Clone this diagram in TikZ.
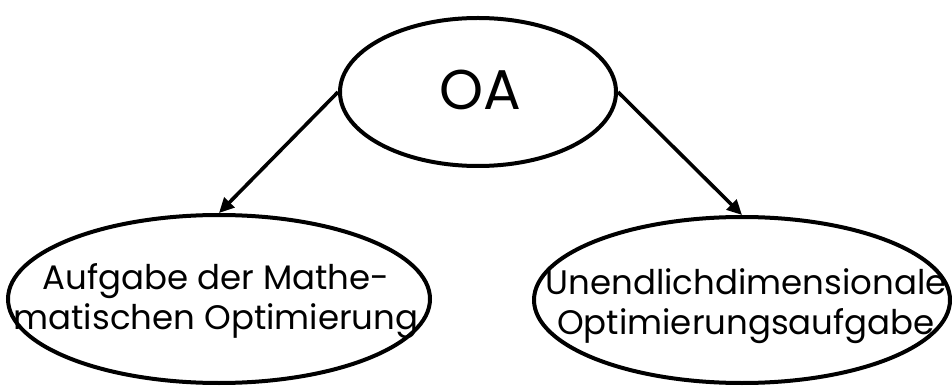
\documentclass[tikz,border=0pt]{standalone}
\usepackage{fontspec}
\setmainfont{Poppins}
\usetikzlibrary{shapes.geometric,arrows.meta}
\begin{document}
\begin{tikzpicture}[x=1pt,y=-1pt,
  bubble/.style={draw,line width=4pt,ellipse,inner sep=0pt},
  label/.style={align=center,inner sep=0pt,font=\fontsize{34}{40}\selectfont},
  link/.style={line width=3.6pt,-{Triangle[length=15pt,width=14pt]}}]
\useasboundingbox (0,0) rectangle (952,387);
% the three ellipses
\node[bubble,minimum width=276pt,minimum height=148pt] (oa) at (478,92) {};
\node[bubble,minimum width=422pt,minimum height=168pt] (math) at (219,299) {};
\node[bubble,minimum width=416pt,minimum height=166pt] (inf) at (742,300) {};
% their texts
\node[inner sep=0pt,font=\fontsize{56}{60}\selectfont] (oatext) at (480,90) {OA};
\node[label] (mathtext) at (216,301) {Aufgabe der Mathe-\\matischen Optimierung};
\node[label] (inftext) at (746,306) {Unendlichdimensionale\\Optimierungsaufgabe};
% connectors
\draw[link] (oa.west) -- (math.north);
\draw[link] (oa.east) -- (inf.north);
\end{tikzpicture}
\end{document}
